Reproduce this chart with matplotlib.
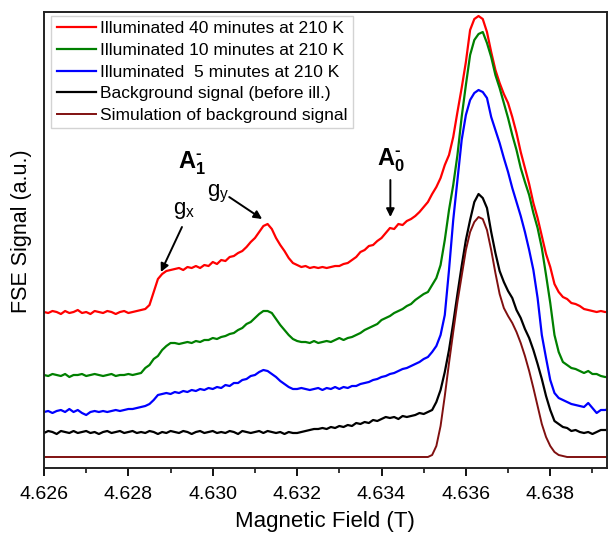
import numpy as np
import matplotlib
matplotlib.use('Agg')
import matplotlib.pyplot as plt

plt.rcParams['font.family'] = ['Liberation Sans', 'DejaVu Sans']
plt.rcParams['mathtext.fontset'] = 'custom'
plt.rcParams['mathtext.rm'] = 'Liberation Sans'
plt.rcParams['mathtext.it'] = 'Liberation Sans'
plt.rcParams['mathtext.bf'] = 'Liberation Sans:bold'

# magnetic field sweep (T), 0.1 mT steps
field = np.round(np.arange(4.6260, 4.63945, 0.0001), 4)

# FSE signal, a.u. (curves offset as in the figure)
ill_40 = [1.56, 1.55, 1.57, 1.56, 1.54, 1.57, 1.55, 1.56, 1.58, 1.55,
          1.56, 1.54, 1.57, 1.56, 1.55, 1.57, 1.56, 1.54, 1.56, 1.57,
          1.55, 1.56, 1.57,
          1.58, 1.59, 1.63, 1.76, 1.89, 1.94, 1.97,
          1.98, 1.99, 2.00, 1.98, 2.01, 2.00, 2.02, 2.00, 2.03, 2.02,
          2.06, 2.04, 2.08, 2.07, 2.11, 2.12, 2.15, 2.17, 2.21, 2.26,
          2.30, 2.36, 2.42, 2.44, 2.39, 2.30, 2.23, 2.17, 2.10, 2.05,
          2.03, 2.01, 2.02, 2.00, 2.01, 2.00, 2.01, 2.00, 2.01, 2.02,
          2.02, 2.04, 2.05, 2.08, 2.11, 2.16, 2.18, 2.22, 2.23, 2.27,
          2.30, 2.35, 2.40, 2.39, 2.44, 2.43, 2.47, 2.49, 2.52, 2.56,
          2.61, 2.66, 2.74, 2.81, 2.90, 3.03, 3.13, 3.31, 3.56, 3.80,
          4.06, 4.38, 4.49, 4.52, 4.49, 4.36, 4.16, 3.98, 3.85, 3.74,
          3.65, 3.51, 3.35, 3.16, 3.00, 2.84, 2.65, 2.50, 2.32, 2.14,
          2.01, 1.84, 1.76, 1.71, 1.69, 1.65, 1.64, 1.62, 1.59, 1.58,
          1.57, 1.56, 1.57, 1.56, 1.56]

ill_10 = [0.93, 0.92, 0.94, 0.93, 0.92, 0.94, 0.91, 0.93, 0.93, 0.94,
          0.92, 0.93, 0.94, 0.93, 0.92, 0.93, 0.94, 0.92, 0.93, 0.93,
          0.94, 0.93, 0.94,
          0.95, 1.00, 1.03, 1.09, 1.12, 1.18, 1.22,
          1.25, 1.25, 1.24, 1.25, 1.26, 1.25, 1.27, 1.26, 1.28, 1.28,
          1.30, 1.29, 1.31, 1.32, 1.34, 1.35, 1.38, 1.40, 1.44, 1.46,
          1.50, 1.54, 1.57, 1.57, 1.55, 1.49, 1.43, 1.38, 1.33, 1.29,
          1.27, 1.26, 1.26, 1.25, 1.27, 1.25, 1.26, 1.27, 1.26, 1.28,
          1.30, 1.28, 1.30, 1.31, 1.33, 1.35, 1.38, 1.40, 1.42, 1.44,
          1.48, 1.50, 1.52, 1.55, 1.57, 1.59, 1.62, 1.64, 1.68, 1.71,
          1.74, 1.76, 1.83, 1.90, 2.03, 2.28, 2.58, 2.83, 3.13, 3.51,
          3.83, 4.13, 4.28, 4.34, 4.36, 4.25, 4.11, 3.93, 3.80, 3.65,
          3.50, 3.33, 3.18, 3.00, 2.86, 2.73, 2.55, 2.40, 2.20, 1.93,
          1.65, 1.33, 1.16, 1.06, 1.03, 1.00, 0.99, 0.97, 0.95, 0.97,
          0.94, 0.94, 0.92, 0.91, 0.91]

ill_5 = [0.56, 0.57, 0.55, 0.57, 0.58, 0.56, 0.59, 0.56, 0.58, 0.55,
         0.53, 0.56, 0.57, 0.56, 0.57, 0.56, 0.57, 0.58, 0.57, 0.58,
         0.59, 0.59, 0.60, 0.61,
         0.62, 0.64, 0.68, 0.73, 0.74, 0.75,
         0.74, 0.76, 0.75, 0.77, 0.76, 0.78, 0.77, 0.79, 0.78, 0.80,
         0.79, 0.81, 0.80, 0.83, 0.82, 0.85, 0.85, 0.88, 0.89, 0.92,
         0.93, 0.96, 0.98, 0.97, 0.94, 0.91, 0.87, 0.84, 0.81, 0.79,
         0.79, 0.80, 0.79, 0.78, 0.79, 0.80, 0.78, 0.80, 0.79, 0.81,
         0.79, 0.81, 0.80, 0.82, 0.82, 0.84, 0.85, 0.86, 0.88, 0.89,
         0.91, 0.92, 0.94, 0.95, 0.97, 0.99, 1.00, 1.02, 1.04, 1.06,
         1.09, 1.11, 1.16, 1.22, 1.33, 1.53, 1.98, 2.48, 2.88, 3.28,
         3.53, 3.68, 3.75, 3.78, 3.76, 3.70, 3.51, 3.38, 3.25, 3.10,
         2.96, 2.80, 2.66, 2.52, 2.36, 2.18, 1.98, 1.70, 1.33, 1.10,
         0.88, 0.75, 0.70, 0.68, 0.66, 0.64, 0.63, 0.62, 0.61, 0.65,
         0.60, 0.55, 0.58, 0.58, 0.59]

background = [0.35, 0.37, 0.36, 0.34, 0.37, 0.36, 0.35, 0.37, 0.35, 0.36,
              0.37, 0.35, 0.36, 0.34, 0.36, 0.37, 0.35, 0.36, 0.37, 0.35,
              0.36, 0.37, 0.35, 0.36, 0.35, 0.37, 0.36, 0.34, 0.36, 0.35,
              0.37, 0.36, 0.35, 0.37, 0.36, 0.34, 0.36, 0.37, 0.35, 0.36,
              0.37, 0.35, 0.36, 0.35, 0.37, 0.36, 0.34, 0.37, 0.36, 0.35,
              0.36, 0.37, 0.35, 0.37, 0.36, 0.35, 0.36, 0.34, 0.36, 0.35,
              0.35, 0.36, 0.37, 0.38, 0.39, 0.39, 0.40, 0.39, 0.41, 0.40,
              0.42, 0.41, 0.43, 0.42, 0.45, 0.44, 0.46, 0.45, 0.48, 0.47,
              0.49, 0.51, 0.50, 0.51, 0.49, 0.52, 0.51, 0.52, 0.53, 0.55,
              0.54, 0.56, 0.58, 0.66, 0.78, 0.96, 1.18, 1.45, 1.74, 2.02,
              2.28, 2.48, 2.66, 2.74, 2.70, 2.60, 2.36, 2.15, 1.97, 1.86,
              1.77, 1.70, 1.58, 1.50, 1.39, 1.30, 1.18, 1.04, 0.89, 0.72,
              0.58, 0.47, 0.44, 0.41, 0.40, 0.37, 0.38, 0.36, 0.35, 0.36,
              0.34, 0.36, 0.38, 0.38, 0.38]

# simulation is smooth: flat baseline then the line shape from 4.6350 T on
sim_field = np.concatenate([field[:1], field[90:]])
simulation = [0.11,
              0.11, 0.11, 0.13, 0.22, 0.42, 0.72, 1.05, 1.36, 1.66, 1.92,
              2.18, 2.36, 2.46, 2.51, 2.49, 2.38, 2.18, 1.95, 1.74, 1.60,
              1.52, 1.45, 1.36, 1.25, 1.12, 0.97, 0.80, 0.62, 0.44, 0.31,
              0.22, 0.16, 0.13, 0.12, 0.11, 0.11, 0.11, 0.11, 0.11, 0.11,
              0.11, 0.11, 0.11, 0.11, 0.11]

labels = ['Illuminated 40 minutes at 210 K',
          'Illuminated 10 minutes at 210 K',
          'Illuminated  5 minutes at 210 K',
          'Background signal (before ill.)',
          'Simulation of background signal']
colors = ['#ff0000', '#008000', '#0000ff', '#000000', '#801010']

fig = plt.figure(figsize=(6.08, 5.34), dpi=100)
ax = fig.add_axes([0.0724, 0.1236, 0.9256, 0.8539])

for y, lab, c in zip([ill_40, ill_10, ill_5, background], labels[:4], colors[:4]):
    ax.plot(field, y, color=c, lw=1.6, label=lab)
ax.plot(sim_field, simulation, color=colors[4], lw=1.4, label=labels[4])

ticks = np.arange(4.626, 4.6390, 0.002)
ax.set_xlim(4.626, 4.63934)
ax.set_ylim(0, 4.56)
ax.set_xticks(ticks)
ax.set_xticklabels(['%.3f' % v for v in ticks])
ax.set_xticks(np.arange(4.627, 4.6395, 0.002), minor=True)
ax.set_yticks([])
ax.tick_params(axis='x', which='major', direction='out', length=6, width=1.3,
               labelsize=14, pad=7, top=False)
ax.tick_params(axis='x', which='minor', direction='out', length=3.5, width=1.1,
               top=False)
for s in ax.spines.values():
    s.set_linewidth(1.4)
    s.set_color('#222222')

ax.set_xlabel('Magnetic Field (T)', fontsize=16, labelpad=6)
ax.set_ylabel('FSE Signal (a.u.)', fontsize=15.5)
ax.yaxis.set_label_coords(-0.022, 0.52)

leg = ax.legend(loc='upper left', bbox_to_anchor=(0.013, 0.991), borderaxespad=0,
                fontsize=12.5, frameon=True, fancybox=False, handlelength=2.25,
                handletextpad=0.25, labelspacing=0.37, borderpad=0.3)
leg.get_frame().set_edgecolor('#c8c8c8')
leg.get_frame().set_linewidth(1.0)

arrow = dict(arrowstyle='-|>', color='black', lw=1.4, mutation_scale=12,
             shrinkA=0, shrinkB=0)
ax.text(4.62951, 3.05, '$\\mathbf{A_1^{\u2010}}$', fontsize=17, ha='center', va='center')
ax.text(4.63423, 3.08, '$\\mathbf{A_0^{\u2010}}$', fontsize=17, ha='center', va='center')
ax.annotate('', xy=(4.63421, 2.51), xytext=(4.63421, 2.88), arrowprops=arrow)
ax.text(4.62932, 2.58, r'$\mathrm{g_x}$', fontsize=16, ha='center', va='center')
ax.annotate('', xy=(4.62877, 1.96), xytext=(4.62927, 2.41), arrowprops=arrow)
ax.text(4.63012, 2.74, r'$\mathrm{g_y}$', fontsize=16, ha='center', va='center')
ax.annotate('', xy=(4.63117, 2.49), xytext=(4.63039, 2.71), arrowprops=arrow)

fig.savefig('out.png', dpi=100)
